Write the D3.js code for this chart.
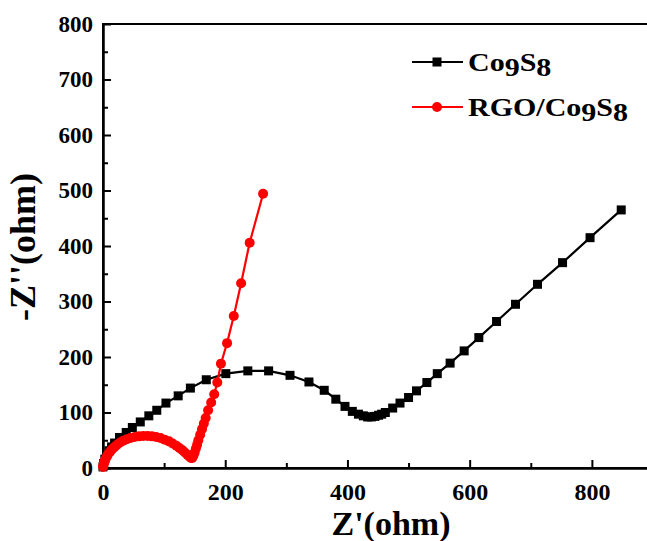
<!DOCTYPE html>
<html>
<head>
<meta charset="utf-8">
<script src="https://cdn.jsdelivr.net/npm/d3@7"></script>
<style>
  body { margin: 0; background: #fff; }
  text { font-family: "Liberation Serif", "Times New Roman", serif; font-weight: bold; }
</style>
</head>
<body>
<svg></svg>
<script>
// Nyquist data (Z' and -Z'', ohm)
const co9s8X = [0, 1, 3, 6, 10, 14, 19, 27, 38, 48, 61, 75, 88, 103, 123, 143, 169, 201, 237, 271, 306, 337, 362, 381, 396, 408, 418, 426, 433, 439, 445, 451, 456, 462, 474, 486, 500, 513, 530, 547, 568, 591, 615, 644, 675, 711, 752, 797, 848];
const co9s8Y = [2, 8, 16, 24, 31, 38, 45, 55, 64, 73, 83, 94, 104, 117, 130, 144, 159, 170, 175, 175, 167, 155, 140, 124, 111, 102, 97, 94, 92, 92, 93, 95, 97, 100, 108, 117, 127, 139, 154, 170, 189, 211, 235, 264, 295, 331, 370, 415, 465];

const rgoX = [0, 1, 2, 3, 5, 7, 9, 12, 15, 19, 23, 28, 33, 39, 45, 52, 59, 66, 73, 80, 87, 94, 101, 108, 114, 120, 125, 130, 134, 138, 141, 144, 146, 148, 150, 152, 154, 156, 159, 162, 165, 168, 172, 177, 182, 187, 193, 203, 214, 226, 240, 262];
const rgoY = [2, 6, 10, 14, 18, 22, 26, 30, 34, 38, 42, 46, 49, 52, 54, 56, 57, 57.5, 57.5, 57, 56, 54, 51, 48, 44, 40, 36, 32, 28, 24, 21, 18, 18, 22, 28, 35, 42, 50, 60, 70, 80, 90, 104, 118, 133, 154, 188, 225, 274, 333, 406, 494];

const xMajor = [0, 200, 400, 600, 800];
const xMinor = [100, 300, 500, 700];
const yMajor = [0, 100, 200, 300, 400, 500, 600, 700, 800];
const yMinor = [50, 150, 250, 350, 450, 550, 650, 750];

const margin = {top: 24, left: 103},
      width = 550,   // right frame falls just outside the picture
      height = 444;

const svg = d3.select("svg")
  .attr("width", 647)
  .attr("height", 541);

const g = svg.append("g")
  .attr("transform", "translate(" + margin.left + "," + margin.top + ")");

const x = d3.scaleLinear().domain([0, 900]).range([0, width]);
const y = d3.scaleLinear().domain([0, 800]).range([height, 0]);

// frame
g.append("rect")
  .attr("width", width)
  .attr("height", height)
  .attr("fill", "none")
  .attr("stroke", "#000")
  .attr("stroke-width", 2);

// axes, ticks pointing inward
g.append("g")
  .attr("class", "x-axis")
  .attr("transform", "translate(0," + height + ")")
  .call(d3.axisBottom(x).tickValues(xMajor).tickSizeInner(-8).tickSizeOuter(0).tickPadding(15).tickFormat(d3.format("d")));
g.append("g")
  .attr("transform", "translate(0," + height + ")")
  .call(d3.axisBottom(x).tickValues(xMinor).tickSizeInner(-5).tickSizeOuter(0).tickFormat(""));

g.append("g")
  .attr("class", "y-axis")
  .call(d3.axisLeft(y).tickValues(yMajor).tickSizeInner(-8).tickSizeOuter(0).tickPadding(10).tickFormat(d3.format("d")));
g.append("g")
  .call(d3.axisLeft(y).tickValues(yMinor).tickSizeInner(-5).tickSizeOuter(0).tickFormat(""));

g.selectAll(".domain").attr("stroke-width", 2);
g.selectAll(".tick line").attr("stroke-width", 2);
g.selectAll(".tick text").attr("fill", "#000")
  .style("font-family", "'Liberation Serif', serif").style("font-weight", "bold");
g.selectAll(".x-axis .tick text").attr("font-size", 24);
g.selectAll(".y-axis .tick text").attr("font-size", 23);

// axis titles
svg.append("text")
  .attr("x", 391)
  .attr("y", 535)
  .attr("text-anchor", "middle")
  .attr("font-size", 34)
  .text("Z'(ohm)");

svg.append("text")
  .attr("transform", "translate(35,247) rotate(-90)")
  .attr("text-anchor", "middle")
  .attr("font-size", 36)
  .text("-Z''(ohm)");

// series
const line = d3.line()
  .x(d => x(d[0]))
  .y(d => y(d[1]));

const co9s8 = co9s8X.map((v, i) => [v, co9s8Y[i]]);
const rgo = rgoX.map((v, i) => [v, rgoY[i]]);

g.append("path")
  .datum(co9s8)
  .attr("fill", "none")
  .attr("stroke", "#000")
  .attr("stroke-width", 2.2)
  .attr("d", line);

g.selectAll(".sq")
  .data(co9s8)
  .join("rect")
    .attr("class", "sq")
    .attr("x", d => x(d[0]) - 4.5)
    .attr("y", d => y(d[1]) - 4.5)
    .attr("width", 9)
    .attr("height", 9)
    .attr("fill", "#000");

g.append("path")
  .datum(rgo)
  .attr("fill", "none")
  .attr("stroke", "#f00")
  .attr("stroke-width", 2.2)
  .attr("d", line);

g.selectAll(".dot")
  .data(rgo)
  .join("circle")
    .attr("class", "dot")
    .attr("cx", d => x(d[0]))
    .attr("cy", d => y(d[1]))
    .attr("r", 5)
    .attr("fill", "#f00");

// legend
const legendItems = [
  {color: "#000", shape: "square", pre: "Co", y: 62},
  {color: "#f00", shape: "circle", pre: "RGO/Co", y: 107}
];

const legend = svg.selectAll(".legend")
  .data(legendItems)
  .join("g")
    .attr("class", "legend")
    .attr("transform", d => "translate(0," + d.y + ")");

legend.append("line")
  .attr("x1", 412).attr("x2", 463)
  .attr("stroke", d => d.color)
  .attr("stroke-width", 2.2);

legend.filter(d => d.shape === "square").append("rect")
  .attr("x", 432.5).attr("y", -4.5).attr("width", 9).attr("height", 9)
  .attr("fill", "#000");
legend.filter(d => d.shape === "circle").append("circle")
  .attr("cx", 437).attr("r", 5)
  .attr("fill", "#f00");

// legend text is drawn a bit wider than the font, as in the picture
const lt = legend.append("text")
  .attr("transform", "translate(468,9) scale(1.2,1)")
  .attr("font-size", 25)
  .attr("fill", "#000");
lt.append("tspan").text(d => d.pre);
lt.append("tspan").attr("dy", 5).text("9");
lt.append("tspan").attr("dy", -5).text("S");
lt.append("tspan").attr("dy", 5).text("8");
</script>
</body>
</html>
